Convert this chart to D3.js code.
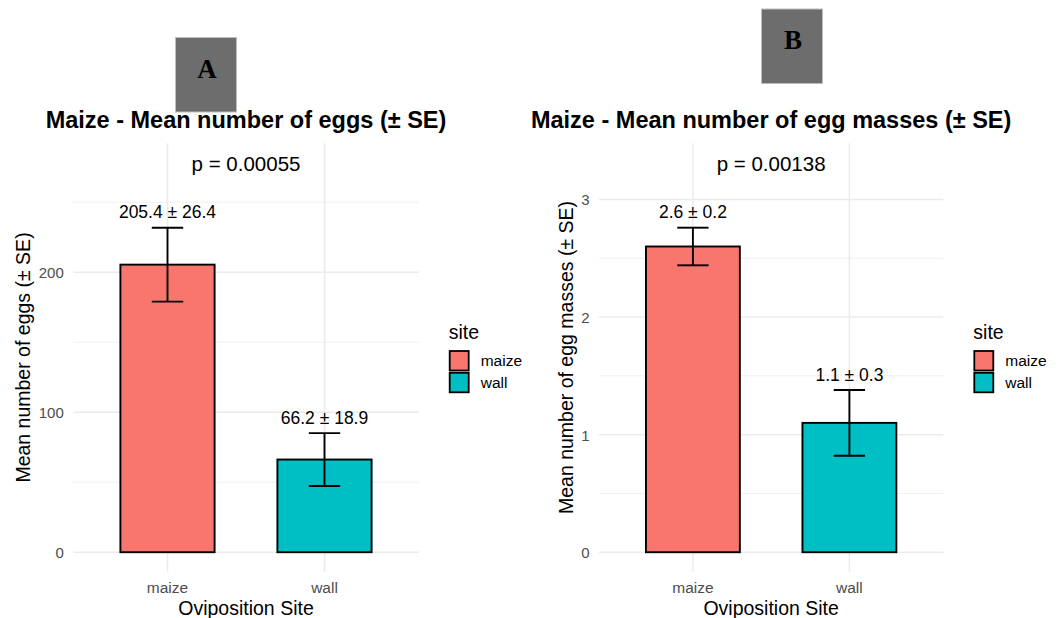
<!DOCTYPE html>
<html>
<head>
<meta charset="utf-8">
<script src="https://cdn.jsdelivr.net/npm/d3@7/dist/d3.min.js"></script>
<style>
  html, body { margin: 0; padding: 0; background: #ffffff; }
  svg { display: block; }
  text { font-family: "Liberation Sans", Arial, sans-serif; }
</style>
</head>
<body>
<svg id="chart" width="1061" height="618"></svg>
<script>
// ---------------- DATA ----------------
const sites = ["maize", "wall"];
const siteColors = ["#F8766D", "#00BFC4"];

const eggMeans = [205.4, 66.2];
const eggSE = [26.4, 18.9];
const eggTicks = [0, 100, 200];
const eggMinorTicks = [50, 150, 250];
const eggPLabel = "p = 0.00055";
const eggTitle = "Maize - Mean number of eggs (± SE)";
const eggYTitle = "Mean number of eggs (± SE)";

const massMeans = [2.6, 1.1];
const massSE = [0.16, 0.28];
const massTicks = [0, 1, 2, 3];
const massMinorTicks = [0.5, 1.5, 2.5];
const massPLabel = "p = 0.00138";
const massTitle = "Maize - Mean number of egg masses (± SE)";
const massYTitle = "Mean number of egg masses (± SE)";

const xTitle = "Oviposition Site";
const legendTitle = "site";
const panelLetters = ["A", "B"];

// ---------------- DRAW ----------------
const svg = d3.select("#chart");

function drawPanel(cfg) {
  const g = svg.append("g");
  const means = cfg.means, se = cfg.se;
  const tops = means.map((m, i) => m + se[i]);
  const pY = 1.2 * d3.max(tops);
  const y = d3.scaleLinear()
    .domain([-0.05 * pY, 1.05 * pY])
    .range([cfg.bottom, cfg.top]);
  const x = d3.scaleBand()
    .domain(sites)
    .range([cfg.left, cfg.right])
    .paddingInner(0.4)
    .paddingOuter(0.3);
  const step = x.step();
  const cx = s => x(s) + x.bandwidth() / 2;

  // minor grid
  g.append("g").selectAll("line").data(cfg.minor).join("line")
    .attr("x1", cfg.left).attr("x2", cfg.right)
    .attr("y1", d => y(d)).attr("y2", d => y(d))
    .attr("stroke", "#ebebeb").attr("stroke-width", 0.8);
  // major grid horizontal
  g.append("g").selectAll("line").data(cfg.ticks).join("line")
    .attr("x1", cfg.left).attr("x2", cfg.right)
    .attr("y1", d => y(d)).attr("y2", d => y(d))
    .attr("stroke", "#ebebeb").attr("stroke-width", 1.5);
  // major grid vertical
  g.append("g").selectAll("line").data(sites).join("line")
    .attr("x1", d => cx(d)).attr("x2", d => cx(d))
    .attr("y1", cfg.top).attr("y2", cfg.bottom)
    .attr("stroke", "#ebebeb").attr("stroke-width", 1.5);

  // y axis
  const yAxis = d3.axisLeft(y).tickValues(cfg.ticks).tickSize(0).tickPadding(9.5)
    .tickFormat(d3.format("d"));
  const ya = g.append("g").attr("transform", `translate(${cfg.left},0)`).call(yAxis);
  ya.select(".domain").remove();
  ya.selectAll("text").attr("fill", "#4d4d4d").style("font-size", "15px")
    .attr("dy", "0.36em");

  // x axis
  const xAxis = d3.axisBottom(x).tickSize(0).tickPadding(0);
  const xa = g.append("g").attr("transform", `translate(0,${cfg.bottom})`).call(xAxis);
  xa.select(".domain").remove();
  xa.selectAll("text").attr("fill", "#4d4d4d").style("font-size", "15.5px")
    .attr("y", 0).attr("dy", 0).attr("transform", "translate(0,20.8)");

  // bars
  g.append("g").selectAll("rect").data(sites).join("rect")
    .attr("x", d => x(d)).attr("width", x.bandwidth())
    .attr("y", (d, i) => y(means[i]))
    .attr("height", (d, i) => y(0) - y(means[i]))
    .attr("fill", (d, i) => siteColors[i])
    .attr("stroke", "#000").attr("stroke-width", 1.9);

  // error bars
  const capW = 0.2 * step;
  const eb = g.append("g").selectAll("g").data(sites).join("g");
  eb.append("line")
    .attr("x1", d => cx(d)).attr("x2", d => cx(d))
    .attr("y1", (d, i) => y(means[i] + se[i])).attr("y2", (d, i) => y(means[i] - se[i]))
    .attr("stroke", "#000").attr("stroke-width", 1.9);
  eb.append("line")
    .attr("x1", d => cx(d) - capW / 2).attr("x2", d => cx(d) + capW / 2)
    .attr("y1", (d, i) => y(means[i] + se[i])).attr("y2", (d, i) => y(means[i] + se[i]))
    .attr("stroke", "#000").attr("stroke-width", 1.9);
  eb.append("line")
    .attr("x1", d => cx(d) - capW / 2).attr("x2", d => cx(d) + capW / 2)
    .attr("y1", (d, i) => y(means[i] - se[i])).attr("y2", (d, i) => y(means[i] - se[i]))
    .attr("stroke", "#000").attr("stroke-width", 1.9);

  // value labels
  g.append("g").selectAll("text").data(sites).join("text")
    .attr("x", d => cx(d))
    .attr("y", (d, i) => y(means[i] + se[i]) - 9.3)
    .attr("text-anchor", "middle")
    .style("font-size", "17.5px").attr("fill", "#000")
    .text((d, i) => means[i].toFixed(1) + " ± " + se[i].toFixed(1));

  // p label
  const midX = (cfg.left + cfg.right) / 2;
  g.append("text").attr("x", midX).attr("y", y(pY) + 7.8)
    .attr("text-anchor", "middle").style("font-size", "20.5px").attr("fill", "#000")
    .text(cfg.pLabel);

  // panel letter box
  g.append("rect").attr("x", cfg.box.x).attr("y", cfg.box.y)
    .attr("width", cfg.box.w).attr("height", cfg.box.h)
    .attr("fill", "#6d6d6d").attr("stroke", "#bdbdbd").attr("stroke-width", 1);
  g.append("text").attr("x", cfg.box.x + cfg.box.w / 2 + 1).attr("y", cfg.box.y + 40)
    .attr("text-anchor", "middle")
    .style("font-family", "'Liberation Serif', 'Times New Roman', serif")
    .style("font-weight", "bold").style("font-size", "27px").attr("fill", "#000")
    .text(cfg.letter);

  // title
  g.append("text").attr("x", midX).attr("y", 128)
    .attr("text-anchor", "middle").style("font-weight", "bold")
    .style("font-size", "23.5px").attr("fill", "#000")
    .text(cfg.title);

  // axis titles
  g.append("text").attr("x", midX).attr("y", cfg.bottom + 43.5)
    .attr("text-anchor", "middle").style("font-size", "19.5px").attr("fill", "#000")
    .text(xTitle);
  const midY = (cfg.top + cfg.bottom) / 2;
  g.append("text")
    .attr("transform", `translate(${cfg.yTitleX + 7},${midY}) rotate(-90)`)
    .attr("text-anchor", "middle").style("font-size", "19.5px").attr("fill", "#000")
    .text(cfg.yTitle);

  // legend
  const lx = cfg.right + 31;
  const lg = g.append("g");
  lg.append("text").attr("x", lx - 1).attr("y", 339)
    .style("font-size", "19.5px").attr("fill", "#000").text(legendTitle);
  const keyStep = 21.8, keyTop = 351;
  const keys = lg.selectAll("g.key").data(sites).join("g").attr("class", "key");
  keys.append("rect")
    .attr("x", lx).attr("y", (d, i) => keyTop + i * keyStep)
    .attr("width", 19).attr("height", 19.5)
    .attr("fill", (d, i) => siteColors[i])
    .attr("stroke", "#000").attr("stroke-width", 1.8);
  keys.append("text")
    .attr("x", lx + 31).attr("y", (d, i) => keyTop + i * keyStep + 9.8 + 5.6)
    .style("font-size", "15.5px").attr("fill", "#000")
    .text(d => d);
}

drawPanel({
  means: eggMeans, se: eggSE, ticks: eggTicks, minor: eggMinorTicks,
  pLabel: eggPLabel, title: eggTitle, yTitle: eggYTitle, letter: panelLetters[0],
  left: 73.3, right: 418.7, top: 143.3, bottom: 571.7, yTitleX: 23,
  box: { x: 175.5, y: 37.5, w: 61, h: 74.5 }
});
drawPanel({
  means: massMeans, se: massSE, ticks: massTicks, minor: massMinorTicks,
  pLabel: massPLabel, title: massTitle, yTitle: massYTitle, letter: panelLetters[1],
  left: 599, right: 943.3, top: 143.3, bottom: 571.7, yTitleX: 566,
  box: { x: 761.5, y: 9, w: 61, h: 74.5 }
});
</script>
</body>
</html>
